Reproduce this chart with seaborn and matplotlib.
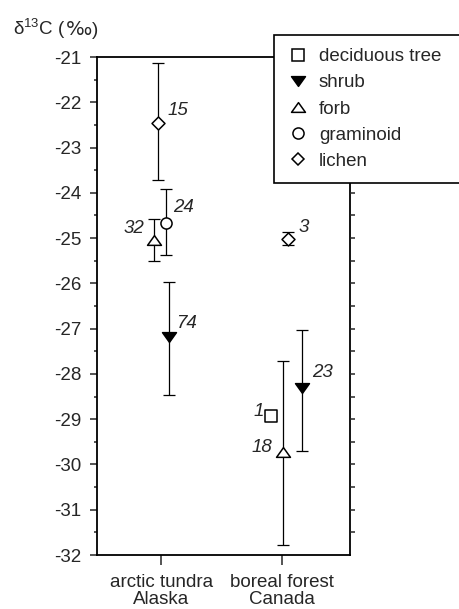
import numpy as np
import pandas as pd
import seaborn as sns
import matplotlib
matplotlib.use("Agg")
import matplotlib.pyplot as plt
from matplotlib.lines import Line2D
from matplotlib.path import Path

# ---------------- data ----------------
sites = ["arctic tundra\nAlaska", "boreal forest\nCanada"]
point_site = [0, 0, 0, 0, 1, 1, 1, 1]
point_type = ["lichen", "graminoid", "forb", "shrub",
              "lichen", "deciduous tree", "forb", "shrub"]
mean_d13c = [-22.46, -24.66, -25.04, -27.19, -25.02, -28.92, -29.73, -28.31]
upper_d13c = [-21.13, -23.91, -24.57, -25.97, -24.86, np.nan, -27.71, -27.03]
lower_d13c = [-23.72, -25.37, -25.50, -28.47, -25.15, np.nan, -31.79, -29.71]
n_samples = [15, 24, 32, 74, 3, 1, 18, 23]
legend_types = ["deciduous tree", "shrub", "forb", "graminoid", "lichen"]
y_ticks = [-32, -31, -30, -29, -28, -27, -26, -25, -24, -23, -22, -21]

# ---------------- layout / style ----------------
dodge = [-0.025, 0.04, -0.064, 0.06, 0.044, -0.097, 0.008, 0.163]
label_off = [(9, 13, "left"), (7, 15, "left"), (-9, 11, "right"), (8, 14, "left"),
             (11, 11, "left"), (-7, 4, "right"), (-11, 5, "right"), (10, 15, "left")]

tri_up = Path([(0, 0.7), (-1, -0.7), (1, -0.7), (0, 0.7)], closed=True)
tri_dn = Path([(0, -0.7), (-1, 0.7), (1, 0.7), (0, -0.7)], closed=True)
style = {
    "deciduous tree": dict(marker="s", ms=8, face="white"),
    "shrub": dict(marker=tri_dn, ms=10, face="black"),
    "forb": dict(marker=tri_up, ms=10, face="white"),
    "graminoid": dict(marker="o", ms=8, face="white"),
    "lichen": dict(marker="D", ms=6.6, face="white"),
}

sns.set_style("ticks")
plt.rcParams["font.family"] = ["Liberation Sans", "DejaVu Sans"]
plt.rcParams["mathtext.fontset"] = "custom"
plt.rcParams["mathtext.rm"] = "Liberation Sans"
plt.rcParams["mathtext.it"] = "Liberation Sans:italic"
plt.rcParams["axes.unicode_minus"] = False
FS = 13.5

df = pd.DataFrame({
    "site": point_site, "type": point_type, "mean": mean_d13c,
    "upper": upper_d13c, "lower": lower_d13c, "n": n_samples,
})
df["xpos"] = df["site"] + np.array(dodge)

W, H = 459, 609
fig = plt.figure(figsize=(W / 100, H / 100), dpi=100)
ax = fig.add_axes([97 / W, 1 - 555 / H, (350 - 97) / W, (555 - 57) / H])

# error bars
ax.errorbar(df["xpos"], df["mean"],
            yerr=[df["mean"] - df["lower"], df["upper"] - df["mean"]],
            fmt="none", ecolor="black", elinewidth=0.9, capsize=4, capthick=0.9,
            zorder=2)

# markers
for t, st in style.items():
    sub = df[df["type"] == t]
    if len(sub) == 0:
        continue
    sns.scatterplot(data=sub, x="xpos", y="mean", marker=st["marker"],
                    s=st["ms"] ** 2, color=st["face"], edgecolor="black",
                    linewidth=1.1, ax=ax, zorder=3, legend=False)

# sample-size labels
for i, row in df.iterrows():
    dx, dy, ha = label_off[i]
    ax.annotate(str(row["n"]), (row["xpos"], row["mean"]), xytext=(dx, dy),
                textcoords="offset pixels", ha=ha, va="center",
                fontsize=FS, fontstyle="italic")

ax.set_xlim(-0.531, 1.559)
ax.set_ylim(-32, -21)
ax.set_xticks([0, 1])
ax.set_xticklabels(sites, fontsize=FS, linespacing=1.0)
ax.set_yticks(y_ticks)
ax.set_yticklabels([str(v) for v in y_ticks], fontsize=FS)
ax.set_yticks(np.arange(-31.5, -21, 1.0), minor=True)
ax.set_xlabel("")
ax.set_ylabel("")
ax.tick_params(axis="y", which="major", direction="out", length=5, width=1.1,
               pad=6, right=False)
ax.tick_params(axis="y", which="minor", direction="out", length=2.5, width=1.1,
               right=False)
ax.tick_params(axis="x", direction="out", length=7, width=1.1, pad=6.5, top=False)
for sp in ax.spines.values():
    sp.set_visible(True)
    sp.set_linewidth(1.3)
    sp.set_color("black")

ax2 = ax.twinx()
ax2.set_ylim(-32, -21)
ax2.set_yticks(np.arange(-31.5, -21.0, 0.5))
ax2.tick_params(axis="y", direction="out", length=3.6, width=1.1,
                labelright=False, right=True)
for sp in ax2.spines.values():
    sp.set_visible(False)

# legend
handles = [Line2D([], [], linestyle="none", marker=style[t]["marker"],
                  markersize=style[t]["ms"], markerfacecolor=style[t]["face"],
                  markeredgecolor="black", markeredgewidth=1.1)
           for t in legend_types]
leg = fig.legend(handles, legend_types, loc="upper left",
                 bbox_to_anchor=(274 / W, 1 - 181 / H, (466 - 274) / W, (181 - 35) / H),
                 bbox_transform=fig.transFigure, mode="expand",
                 borderaxespad=0, borderpad=0.7, handlelength=1.16,
                 handletextpad=0.54, labelspacing=0.48, fontsize=FS,
                 frameon=True, fancybox=False, framealpha=1, edgecolor="black")
leg.get_frame().set_linewidth(1.2)

# y-axis unit title (δ13C in ‰), built from pieces so the ‰ sign is wide
ty = 1 - 35 / H
t1 = fig.text(13 / W, ty, "δ$^{13}$C (", fontsize=FS, ha="left", va="baseline")
fig.canvas.draw()
r = fig.canvas.get_renderer()
bb = t1.get_window_extent(r)
t2 = fig.text(bb.x1 / (W), ty, "‰", fontsize=FS * 1.05, ha="left", va="baseline",
              family=["DejaVu Sans"])
bb2 = t2.get_window_extent(r)
fig.text(bb2.x1 / W, ty, ")", fontsize=FS, ha="left", va="baseline")

fig.savefig("out.png", dpi=100)
